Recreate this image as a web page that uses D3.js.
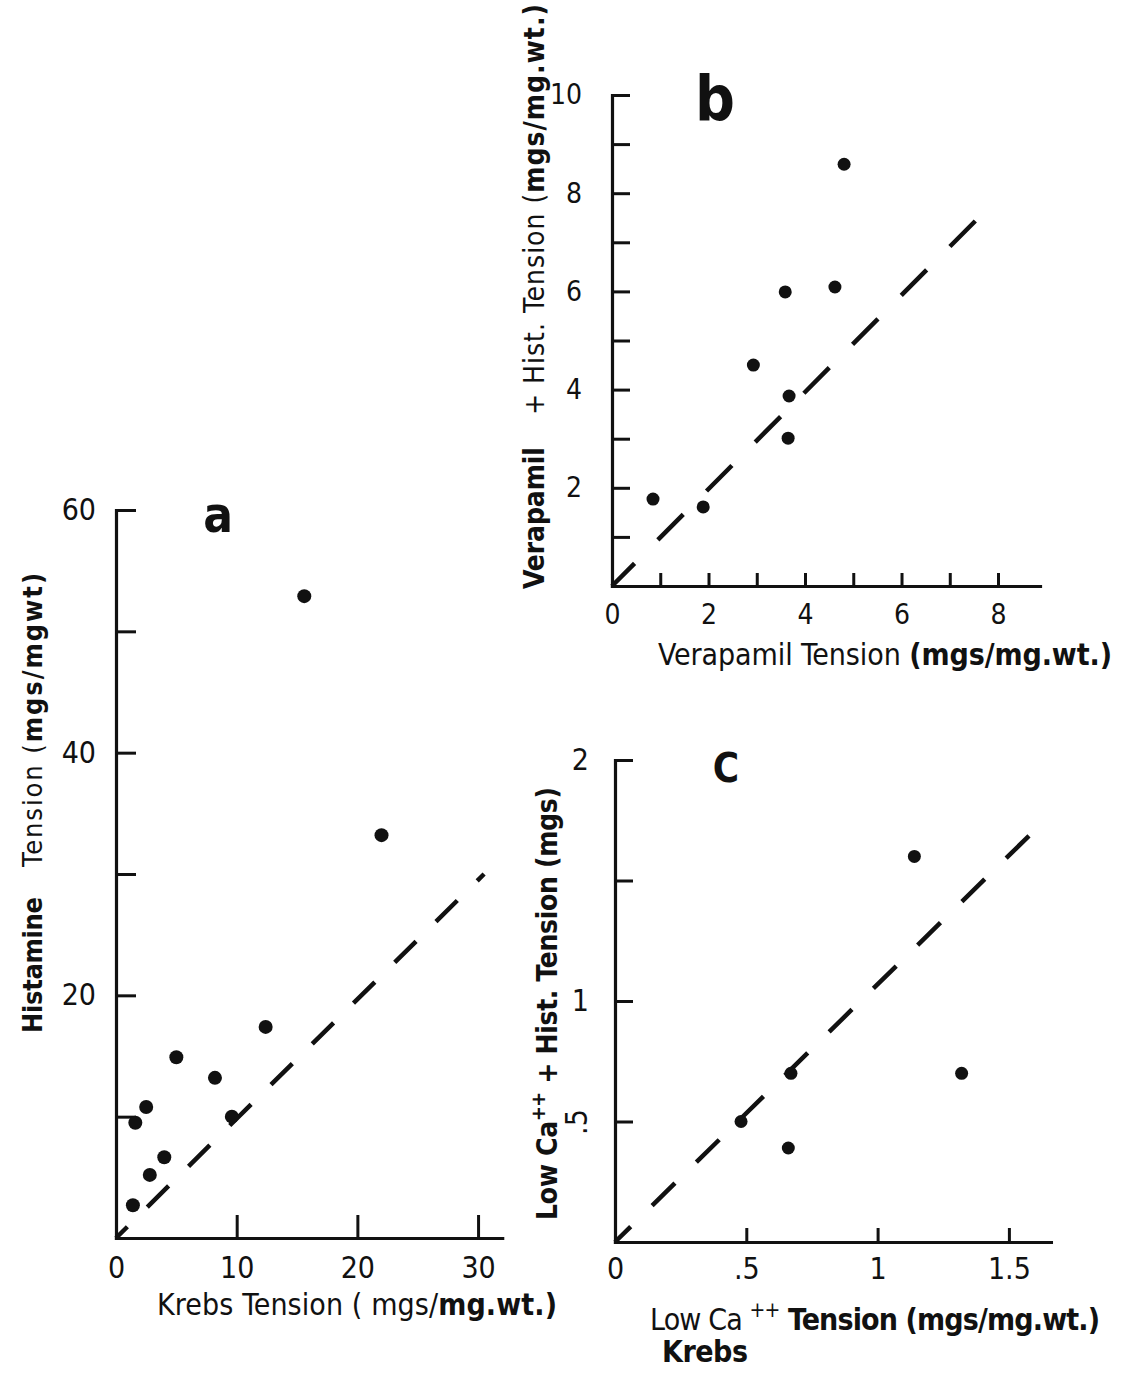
<!DOCTYPE html>
<html>
<head>
<meta charset="utf-8">
<script src="https://cdn.jsdelivr.net/npm/d3@7"></script>
<style>
  body { margin: 0; background: #fff; }
  svg text { font-family: "DejaVu Sans Condensed", "Liberation Sans Narrow", "DejaVu Sans", sans-serif; }
</style>
</head>
<body>
<svg id="fig" width="1127" height="1374"></svg>
<script>
// ---- Panel a: Krebs tension vs histamine tension (mgs/mg wt) ----
const aKrebs     = [1.4, 1.6, 2.5, 2.8, 4.0, 5.0, 8.2, 9.6, 12.4, 15.6, 22.0];
const aHistamine = [2.7, 9.5, 10.8, 5.2, 6.65, 14.9, 13.2, 10.0, 17.4, 52.9, 33.2];
const aXTicks = [0, 10, 20, 30];
const aXLabels = [0, 10, 20, 30];
const aYTicks = [10, 20, 30, 40, 50, 60];
const aYLabels = [20, 40, 60];
const aIdentity = [[0, 0], [30.5, 30]];

// ---- Panel b: verapamil tension vs verapamil + histamine tension ----
const bVerapamil = [0.85, 1.89, 2.93, 3.59, 3.65, 3.67, 4.62, 4.81];
const bVeraHist  = [1.77, 1.61, 4.5, 5.99, 3.01, 3.87, 6.09, 8.59];
const bXTicks = [0, 1, 2, 3, 4, 5, 6, 7, 8];
const bXLabels = [0, 2, 4, 6, 8];
const bYTicks = [1, 2, 3, 4, 5, 6, 7, 8, 9, 10];
const bYLabels = [2, 4, 6, 8, 10];
const bIdentity = [[0, 0], [7.9, 7.8]];

// ---- Panel c: low Ca++ Krebs tension vs low Ca++ + histamine tension ----
const cLowCa     = [0.48, 0.66, 0.67, 1.14, 1.32];
const cLowCaHist = [0.50, 0.39, 0.70, 1.60, 0.70];
const cXTicks = [0, 0.5, 1, 1.5];
const cXLabels = [0, 0.5, 1, 1.5];
const cYTicks = [0.5, 1, 1.5, 2];
const cYLabels = [0.5, 1, 2];
const cIdentity = [[0, 0], [1.59, 1.70]];

const INK = "#111";
const FONT = '"DejaVu Sans Condensed", "Liberation Sans Narrow", "DejaVu Sans", sans-serif';
const svg = d3.select("#fig");
svg.append("rect").attr("width", 1127).attr("height", 1374).attr("fill", "#fff");

const fmtPlain = d => String(d);
const fmtFrac = d => d === 0 ? "0" : (d < 1 ? String(d).replace(/^0/, "") : String(d));

function drawPanel(cfg) {
  const g = svg.append("g");
  const x = d3.scaleLinear().domain([0, cfg.xMax]).range(cfg.xRange);
  const y = d3.scaleLinear().domain([0, cfg.yMax]).range(cfg.yRange);
  const xLab = new Set(cfg.xLabels), yLab = new Set(cfg.yLabels);

  const xAxis = d3.axisBottom(x)
    .tickValues(cfg.xTicks)
    .tickSizeInner(-cfg.xTickLen).tickSizeOuter(0)
    .tickPadding(cfg.xPad)
    .tickFormat(d => xLab.has(d) ? cfg.fmt(d) : "");
  const yAxis = d3.axisLeft(y)
    .tickValues(cfg.yTicks)
    .tickSizeInner(-cfg.yTickLen).tickSizeOuter(0)
    .tickPadding(cfg.yPad)
    .tickFormat(d => yLab.has(d) ? cfg.fmt(d) : "");

  const gx = g.append("g").attr("transform", `translate(0,${y(0)})`).call(xAxis);
  const gy = g.append("g").attr("transform", `translate(${x(0)},0)`).call(yAxis);
  [gx, gy].forEach(ax => {
    ax.attr("font-family", FONT).attr("font-size", cfg.tickFont).attr("color", INK);
    ax.select(".domain").attr("stroke-width", 3.2).attr("stroke-linecap", "square");
    ax.selectAll(".tick line").attr("stroke-width", 3);
  });
  gx.selectAll(".tick").filter(d => d === 0).select("line").remove();
  if (cfg.rotateY) {
    gy.selectAll(".tick text").filter(d => cfg.rotateY.includes(d))
      .attr("text-anchor", "middle").attr("dy", null)
      .attr("x", -cfg.yPad - 10).attr("y", 8)
      .attr("transform", `rotate(-90, ${-cfg.yPad - 10}, 0)`);
  }

  // line of identity
  g.append("path")
    .datum(cfg.identity)
    .attr("d", d3.line().x(d => x(d[0])).y(d => y(d[1])))
    .attr("fill", "none").attr("stroke", INK)
    .attr("stroke-width", 4.5)
    .attr("stroke-dasharray", cfg.dash)
    .attr("stroke-dashoffset", cfg.dashOffset);

  // data points
  g.selectAll("circle.pt")
    .data(d3.zip(cfg.xs, cfg.ys))
    .join("circle").attr("class", "pt")
    .attr("cx", d => x(d[0])).attr("cy", d => y(d[1]))
    .attr("r", cfg.r).attr("fill", INK);
}

drawPanel({
  xs: aKrebs, ys: aHistamine, identity: aIdentity,
  xMax: 32, xRange: [116, 502.2], yMax: 60, yRange: [1238, 510],
  xTicks: aXTicks, xLabels: aXLabels, yTicks: aYTicks, yLabels: aYLabels,
  xTickLen: 23, yTickLen: 20, xPad: 19, yPad: 20, tickFont: 30,
  fmt: fmtPlain, dash: "30,28", dashOffset: 14, r: 7
});
drawPanel({
  xs: bVerapamil, ys: bVeraHist, identity: bIdentity,
  xMax: 8.87, xRange: [612, 1040], yMax: 10, yRange: [586, 95],
  xTicks: bXTicks, xLabels: bXLabels, yTicks: bYTicks, yLabels: bYLabels,
  xTickLen: 13, yTickLen: 18, xPad: 18, yPad: 30, tickFont: 28,
  fmt: fmtPlain, dash: "36,33", dashOffset: 4, r: 6.5
});
drawPanel({
  xs: cLowCa, ys: cLowCaHist, identity: cIdentity,
  xMax: 1.66, xRange: [615, 615 + 1.66 * 262.6], yMax: 2, yRange: [1242, 760],
  xTicks: cXTicks, xLabels: cXLabels, yTicks: cYTicks, yLabels: cYLabels,
  xTickLen: 14, yTickLen: 18, xPad: 16, yPad: 26, tickFont: 30,
  fmt: fmtFrac, dash: "32,30", dashOffset: 10, r: 6.5, rotateY: [0.5]
});

// ---- text helpers ----
function addParts(t, parts, size) {
  parts.forEach(p => {
    const s = t.append("tspan").text(p.t)
      .attr("font-weight", p.bold ? "bold" : "normal");
    if (p.sup) s.attr("font-size", size * 0.7).attr("dy", -size * 0.42);
    if (p.after) s.attr("dy", size * 0.42);
  });
}
function hTitle(x0, x1, baseline, parts, size) {
  const t = svg.append("text")
    .attr("x", x0).attr("y", baseline)
    .attr("font-size", size).attr("fill", INK)
    .attr("textLength", x1 - x0).attr("lengthAdjust", "spacing");
  addParts(t, parts, size);
}
function vTitle(xBase, yStart, yEnd, parts, size) {
  const t = svg.append("text")
    .attr("transform", `translate(${xBase},${yStart}) rotate(-90)`)
    .attr("font-size", size).attr("fill", INK)
    .attr("textLength", yStart - yEnd).attr("lengthAdjust", "spacing");
  addParts(t, parts, size);
}
function letter(txt, cx, baseline, size) {
  svg.append("text").attr("x", cx).attr("y", baseline)
    .attr("text-anchor", "middle").attr("font-size", size)
    .attr("font-weight", "bold").attr("fill", INK).text(txt);
}

// panel a
vTitle(42, 1033, 897, [{t: "Histamine", bold: true}], 27);
vTitle(42, 867, 573, [{t: "Tension ("}, {t: "mgs/mgwt)", bold: true}], 27);
hTitle(157, 557, 1315, [{t: "Krebs Tension ( mgs/"}, {t: "mg.wt.)", bold: true}], 30);
letter("a", 218, 532, 49);

// panel b
vTitle(544, 589, 447, [{t: "Verapamil", bold: true}], 28);
vTitle(544, 415, 4, [{t: "+ Hist. Tension ("}, {t: "mgs/mg.wt.)", bold: true}], 28);
hTitle(658, 1112, 665, [{t: "Verapamil Tension "}, {t: "(mgs/mg.wt.)", bold: true}], 30);
letter("b", 715, 120, 62);

// panel c
vTitle(557, 1220, 787, [{t: "Low Ca", bold: true}, {t: "++", bold: true, sup: true},
                        {t: " + Hist. Tension (mgs)", bold: true, after: true}], 28);
hTitle(650, 1100, 1330, [{t: "Low Ca "}, {t: "++", sup: true},
                         {t: " Tension (mgs/mg.wt.)", bold: true, after: true}], 30);
hTitle(662, 748, 1362, [{t: "Krebs", bold: true}], 30);
letter("C", 726, 782, 40);
</script>
</body>
</html>
